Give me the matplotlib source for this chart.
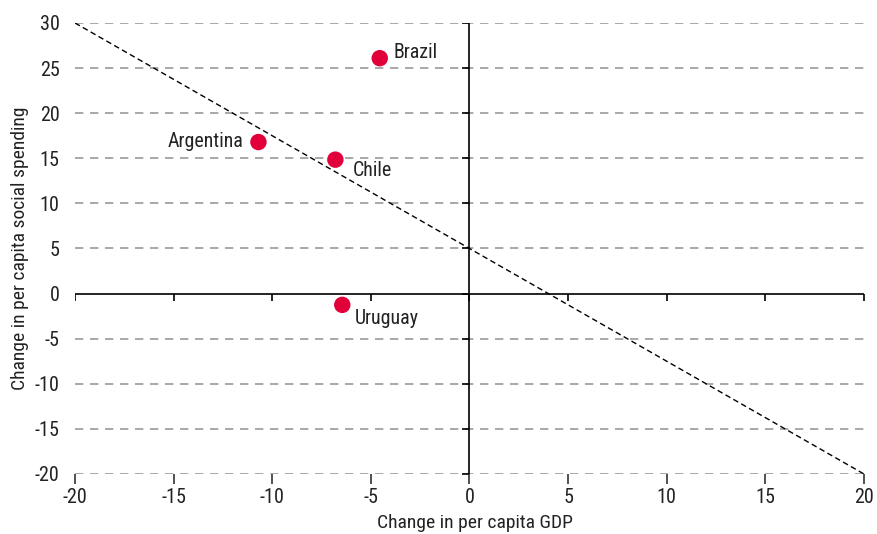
import matplotlib
matplotlib.use("Agg")
import matplotlib.pyplot as plt
from matplotlib.lines import TICKDOWN, TICKLEFT

plt.rcParams['font.family'] = ['Roboto Condensed', 'Archivo Narrow', 'Liberation Sans', 'DejaVu Sans']
plt.rcParams['axes.unicode_minus'] = False

countries = ["Brazil", "Argentina", "Chile", "Uruguay"]
gdp_change = [-4.55, -10.7, -6.8, -6.45]
spending_change = [26.1, 16.8, 14.85, -1.25]
trend_x = [-20, 20]
trend_y = [30, -20]
xticks = [-20, -15, -10, -5, 0, 5, 10, 15, 20]
yticks = [-20, -15, -10, -5, 0, 5, 10, 15, 20, 25, 30]

label_offsets = {"Brazil": (14, 6, "left"), "Argentina": (-15, 1, "right"),
                 "Chile": (17, -11, "left"), "Uruguay": (12, -14, "left")}

fig = plt.figure(figsize=(8.77, 5.34), dpi=100)
ax = fig.add_axes([75/877, 1-474/534, (864-75)/877, (474-23)/534])
ax.set_xlim(-20, 20)
ax.set_ylim(-20, 30)

for s in ax.spines.values():
    s.set_visible(False)

# horizontal dashed gridlines
for yv in yticks:
    if yv != 0:
        ax.axhline(yv, color='#9a9a9a', lw=1.2, ls=(0, (5, 4)), zorder=1)

# zero axes
ax.axhline(0, color='black', lw=1.2, zorder=2)
ax.axvline(0, color='black', lw=1.2, zorder=2)
ax.plot(xticks, [0]*len(xticks), ls='none', marker=TICKDOWN, ms=5, mew=1.2, color='black', zorder=2)
ax.plot([0]*len(yticks), yticks, ls='none', marker=TICKLEFT, ms=5, mew=1.2, color='black', zorder=2)

# trend line
ax.plot(trend_x, trend_y, color='black', lw=1, ls=(0, (4, 2.5)), zorder=3)

# points
ax.scatter(gdp_change, spending_change, s=140, color='#E2003A', zorder=4, edgecolors='none')
for c, xv, yv in zip(countries, gdp_change, spending_change):
    dx, dy, ha = label_offsets[c]
    ax.annotate(c, (xv, yv), xytext=(dx, dy), textcoords='offset pixels',
                ha=ha, va='center', fontsize=14.3, color='#222222')

ax.set_xticks(xticks)
ax.set_yticks(yticks)
ax.tick_params(axis='x', direction='out', length=7, width=1.2, color='#333333',
               labelsize=14.5, pad=3, labelcolor='#222222')
ax.tick_params(axis='y', length=0, labelsize=14.5, pad=11, labelcolor='#222222')

ax.set_xlabel("Change in per capita GDP", fontsize=14, color='#222222', va='center')
ax.set_ylabel("Change in per capita social spending", fontsize=14, color='#222222', va='center')
ax.xaxis.set_label_coords(0.5 + (475 - 469.5) / 789, (474 - 523) / 451)
ax.yaxis.set_label_coords((20 - 75) / 789, 0.5)

fig.savefig("out.png", dpi=100)
